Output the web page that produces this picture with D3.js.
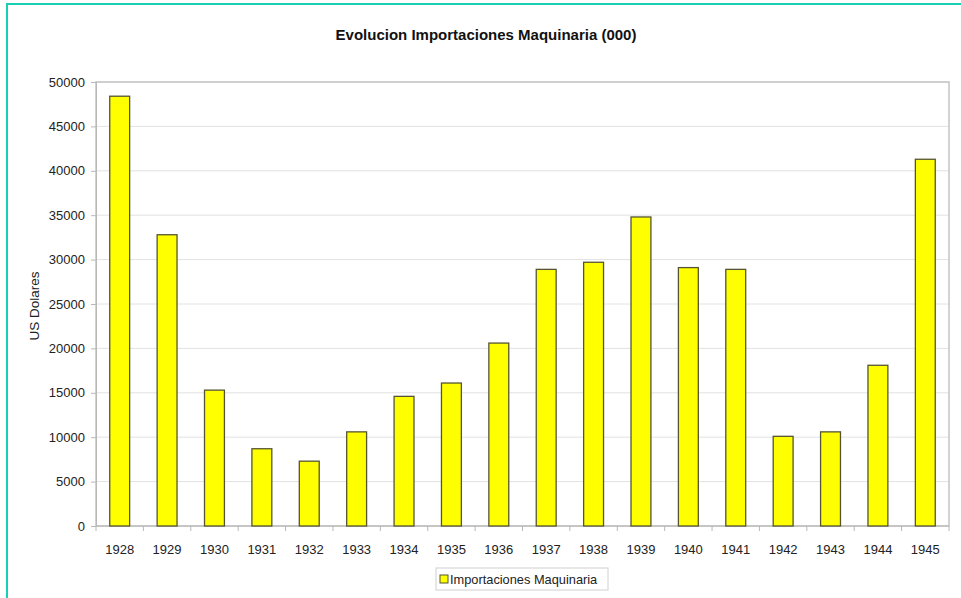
<!DOCTYPE html>
<html>
<head>
<meta charset="utf-8">
<script src="https://cdn.jsdelivr.net/npm/d3@7"></script>
<style>
  html, body { margin: 0; padding: 0; background: #fff; }
  svg { display: block; font-family: Arial, "Liberation Sans", sans-serif; }
</style>
</head>
<body>
<svg id="chart" width="961" height="598"></svg>
<script>
// Machinery imports by year, thousands of US dollars
const years = ["1928","1929","1930","1931","1932","1933","1934","1935","1936",
               "1937","1938","1939","1940","1941","1942","1943","1944","1945"];
const imports = [48400, 32800, 15300, 8700, 7300, 10600, 14600, 16100, 20600,
                 28900, 29700, 34800, 29100, 28900, 10100, 10600, 18100, 41300];
const yTicks = [0, 5000, 10000, 15000, 20000, 25000, 30000, 35000, 40000, 45000, 50000];

const title = "Evolucion Importaciones Maquinaria (000)";
const yLabel = "US Dolares";
const seriesName = "Importaciones Maquinaria";

const svg = d3.select("#chart");
const W = 961, H = 598;
const plot = { left: 96, right: 949, top: 82, bottom: 526 };

// Frame lines along the top and left edge
svg.append("line").attr("x1", 6).attr("x2", W).attr("y1", 4).attr("y2", 4)
  .attr("stroke", "#19cfb4").attr("stroke-width", 2);
svg.append("line").attr("x1", 7).attr("x2", 7).attr("y1", 3).attr("y2", H)
  .attr("stroke", "#19cfb4").attr("stroke-width", 2);

const x = d3.scaleBand().domain(years).range([plot.left, plot.right]).paddingInner(0.58).paddingOuter(0.29);
const xb = d3.scaleBand().domain(years).range([plot.left, plot.right]);
const y = d3.scaleLinear().domain([0, 50000]).range([plot.bottom, plot.top]);

// Gridlines
svg.append("g").selectAll("line").data(yTicks.filter(d => d > 0)).join("line")
  .attr("x1", plot.left).attr("x2", plot.right)
  .attr("y1", d => y(d)).attr("y2", d => y(d))
  .attr("stroke", "#e2e2e2").attr("stroke-width", 1);

// Plot area border
svg.append("rect")
  .attr("x", plot.left).attr("y", plot.top)
  .attr("width", plot.right - plot.left).attr("height", plot.bottom - plot.top)
  .attr("fill", "none").attr("stroke", "#c4c4c4").attr("stroke-width", 1.5);

// Y axis
const yAxis = d3.axisLeft(y).tickValues(yTicks).tickSize(5).tickPadding(6).tickFormat(d3.format("d"));
const gy = svg.append("g").attr("transform", `translate(${plot.left},0)`).call(yAxis);
gy.select(".domain").attr("stroke", "#b8b8b8");
gy.selectAll(".tick line").attr("stroke", "#b8b8b8");
gy.selectAll("text").attr("fill", "#222").attr("font-size", 13).attr("font-family", "Arial, 'Liberation Sans', sans-serif");

// X axis: ticks sit on category boundaries
const gx = svg.append("g").attr("transform", `translate(0,${plot.bottom})`);
gx.append("line").attr("x1", plot.left).attr("x2", plot.right).attr("stroke", "#b8b8b8");
gx.selectAll("line.sep").data(years).join("line").attr("class", "sep")
  .attr("x1", d => xb(d)).attr("x2", d => xb(d)).attr("y1", 0).attr("y2", 5)
  .attr("stroke", "#b8b8b8");
gx.append("line").attr("x1", plot.right).attr("x2", plot.right).attr("y1", 0).attr("y2", 5).attr("stroke", "#b8b8b8");
gx.selectAll("text").data(years).join("text")
  .attr("x", d => xb(d) + xb.bandwidth() / 2).attr("y", 28)
  .attr("text-anchor", "middle").attr("fill", "#222").attr("font-size", 13)
  .text(d => d);

// Bars
svg.append("g").selectAll("rect").data(years).join("rect")
  .attr("x", d => x(d)).attr("width", x.bandwidth())
  .attr("y", (d, i) => y(imports[i]))
  .attr("height", (d, i) => y(0) - y(imports[i]))
  .attr("fill", "#ffff00").attr("stroke", "#555533").attr("stroke-width", 1.3);

// Title
svg.append("text").attr("x", 486).attr("y", 40).attr("text-anchor", "middle")
  .attr("font-size", 15).attr("font-weight", "bold").attr("fill", "#111").text(title);

// Y axis label
svg.append("text").attr("transform", "translate(39,306) rotate(-90)")
  .attr("text-anchor", "middle").attr("font-size", 13.5).attr("fill", "#222").text(yLabel);

// Legend
const lg = svg.append("g").attr("transform", "translate(436,568)");
lg.append("rect").attr("width", 172).attr("height", 22)
  .attr("fill", "#fff").attr("stroke", "#d0d0d0");
lg.append("rect").attr("x", 4).attr("y", 7).attr("width", 8).attr("height", 8)
  .attr("fill", "#ffff00").attr("stroke", "#555533");
lg.append("text").attr("x", 14).attr("y", 16).attr("font-size", 12.8)
  .attr("fill", "#222").text(seriesName);
</script>
</body>
</html>
